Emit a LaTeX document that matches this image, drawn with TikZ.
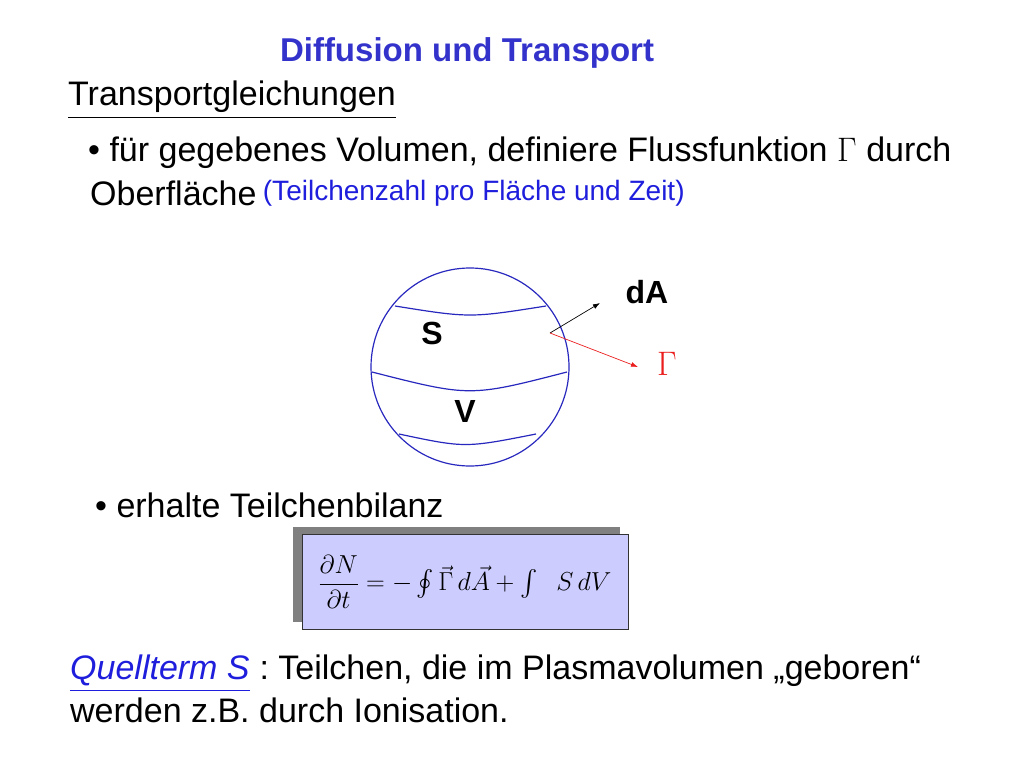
\RequirePackage{fix-cm}
\documentclass[tikz,border=0pt]{standalone}
\usepackage{amsmath,amssymb}
\usepackage{fontspec}
\setmainfont{Liberation Sans}
\usepackage{xcolor}
\usepackage{tikz}
\usetikzlibrary{positioning,arrows.meta}

\definecolor{titleblue}{RGB}{51,51,204}
\definecolor{lineblue}{RGB}{40,40,190}
\definecolor{notblue}{RGB}{30,30,220}
\definecolor{boxfill}{RGB}{204,204,255}
\definecolor{shadowgray}{RGB}{128,128,128}
\definecolor{arrred}{RGB}{235,30,30}
\frenchspacing

\begin{document}
\begin{tikzpicture}[
  x=1pt, y=-1pt,
  txt/.style={anchor=west, inner sep=0pt, font=\fontsize{34}{40}\selectfont},
  lbl/.style={inner sep=0pt, font=\fontsize{32}{36}\selectfont\bfseries},
  band/.style={draw=lineblue, line width=1.2pt},
  vec/.style={-{Latex[length=7pt,width=5pt]}, line width=0.7pt}
]
  \useasboundingbox (0,0) rectangle (1024,768);

  % Heading
  \node[txt, anchor=center, text=titleblue, font=\fontsize{33}{40}\selectfont\bfseries] (title) at (467,53) {Diffusion und Transport};
  \node[txt] (sub) at (68,100) {\underline{Transportgleichungen}};

  % First bullet
  \node[txt] (fluss) at (88,153) {\textbullet\ für gegebenes Volumen, definiere Flussfunktion $\Gamma$ durch};
  \node[txt] (ober) at (90,193) {Oberfläche};
  \node[txt, right=6pt of ober, font=\fontsize{28}{32}\selectfont, text=notblue] (paren) {(Teilchenzahl pro Fläche und Zeit)};

  % Volume sketch
  \node[draw=lineblue, line width=1.2pt, circle, minimum size=198pt, inner sep=0pt] (vol) at (470,367) {};
  \draw[band] (395,306) .. controls (470,318) .. (546,306);
  \draw[band] (372,372) .. controls (470,397) .. (567,372);
  \draw[band] (399,434) .. controls (465,448) .. (536,434);
  \node[lbl] (s) at (432,333) {S};
  \node[lbl] (v) at (465,411) {V};

  \coordinate (foot) at (550,333);
  \coordinate (dAtip) at (600,303);
  \coordinate (gtip) at (638,367);
  \draw[vec, black] (foot) -- (dAtip);
  \draw[vec, arrred] (foot) -- (gtip);
  \node[lbl] (dA) at (647,292) {dA};
  \node[inner sep=0pt, text=arrred, font=\fontsize{34}{36}\selectfont] (gam) at (667,364) {$\Gamma$};

  % Second bullet and balance equation
  \node[txt] (bil) at (95,505) {\textbullet\ erhalte Teilchenbilanz};
  \fill[shadowgray] (293,527) rectangle (620,622);
  \node[draw=black!80, line width=0.8pt, fill=boxfill, minimum width=326pt, minimum height=95pt, inner sep=0pt] (eq) at (465,582)
    {\fontsize{26}{30}\selectfont$\dfrac{\partial N}{\partial t} = -\oint\vec{\Gamma}\,d\vec{A} + \int\;\; S\,dV$};

  % Source term
  \node[txt, anchor=base west, text=notblue] (quell) at (70,679) {\underline{\itshape Quellterm S}};
  \node[txt, anchor=base west] (teil) at (quell.base east) {\ : Teilchen, die im Plasmavolumen „geboren“};
  \node[txt, anchor=base west] (ion) at (70,722) {werden z.B. durch Ionisation.};
\end{tikzpicture}
\end{document}
